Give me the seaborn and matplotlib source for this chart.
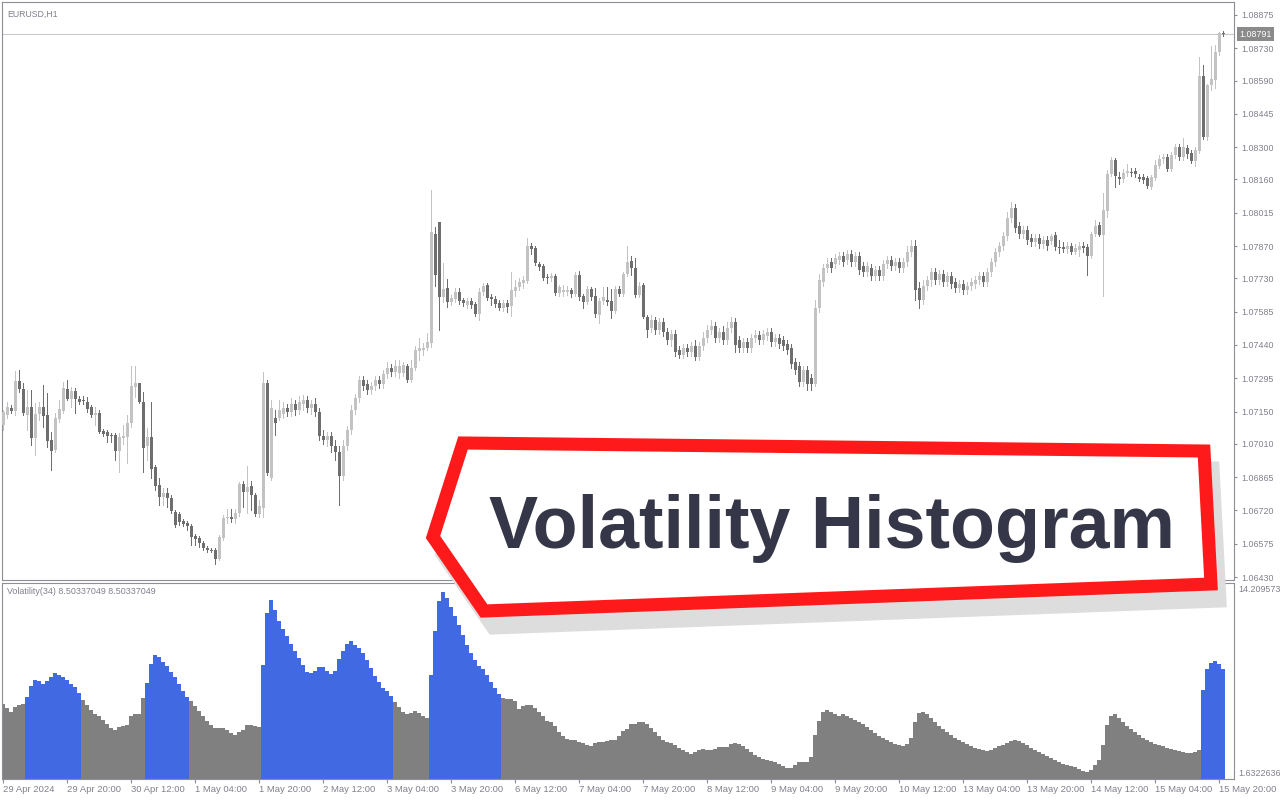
import numpy as np
import pandas as pd
import matplotlib
matplotlib.use("Agg")
import matplotlib.pyplot as plt
import matplotlib.transforms as mtransforms
from matplotlib.patches import Polygon
import seaborn as sns

sns.set_theme(style="white")
plt.rcParams['font.family'] = ['Liberation Sans', 'DejaVu Sans']

# ---------------- data ----------------
symbol = "EURUSD,H1"
indicator_label = "Volatility(34) 8.50337049 8.50337049"
banner_text = "Volatility Histogram"
last_price = 1.08791
vol_max_label = "14.209573"
vol_min_label = "1.6322636"
price_ticks = [1.08875, 1.08730, 1.08590, 1.08445, 1.08300, 1.08160, 1.08015, 1.07870, 1.07730,
               1.07585, 1.07440, 1.07295, 1.07150, 1.07010, 1.06865, 1.06720, 1.06575, 1.06430]

opens = [
    1.07092, 1.07135, 1.07165, 1.07152, 1.07283, 1.07248, 1.07135, 1.07170, 1.07035, 1.07139,
    1.07170, 1.07135, 1.07026, 1.06983, 1.07118, 1.07152, 1.07248, 1.07205, 1.07239, 1.07205,
    1.07200, 1.07192, 1.07170, 1.07135, 1.07144, 1.07065, 1.07061, 1.07048, 1.07048, 1.06978,
    1.07035, 1.07039, 1.07100, 1.07257, 1.07274, 1.07192, 1.07000, 1.07039, 1.06909, 1.06831,
    1.06778, 1.06796, 1.06774, 1.06713, 1.06704, 1.06674, 1.06665, 1.06652, 1.06609, 1.06600,
    1.06578, 1.06556, 1.06548, 1.06548, 1.06509, 1.06600, 1.06687, 1.06691, 1.06683, 1.06709,
    1.06835, 1.06800, 1.06826, 1.06787, 1.06704, 1.06730, 1.07274, 1.06861, 1.07122, 1.07122,
    1.07139, 1.07165, 1.07148, 1.07183, 1.07157, 1.07183, 1.07200, 1.07165, 1.07183, 1.07148,
    1.07044, 1.07026, 1.07044, 1.07000, 1.06974, 1.06870, 1.07000, 1.07070, 1.07157, 1.07209,
    1.07287, 1.07270, 1.07244, 1.07261, 1.07287, 1.07270, 1.07313, 1.07339, 1.07322, 1.07318,
    1.07318, 1.07348, 1.07287, 1.07339, 1.07413, 1.07418, 1.07426, 1.07448, 1.07922, 1.07975,
    1.07648, 1.07687, 1.07627, 1.07640, 1.07670, 1.07635, 1.07614, 1.07631, 1.07618, 1.07574,
    1.07670, 1.07701, 1.07648, 1.07640, 1.07622, 1.07600, 1.07622, 1.07609, 1.07674, 1.07692,
    1.07709, 1.07718, 1.07870, 1.07861, 1.07792, 1.07783, 1.07735, 1.07731, 1.07740, 1.07666,
    1.07670, 1.07670, 1.07679, 1.07661, 1.07744, 1.07653, 1.07627, 1.07683, 1.07653, 1.07570,
    1.07631, 1.07635, 1.07631, 1.07587, 1.07683, 1.07661, 1.07748, 1.07805, 1.07774, 1.07657,
    1.07701, 1.07561, 1.07513, 1.07548, 1.07505, 1.07540, 1.07496, 1.07461, 1.07487, 1.07418,
    1.07396, 1.07426, 1.07409, 1.07435, 1.07387, 1.07435, 1.07470, 1.07505, 1.07522, 1.07470,
    1.07496, 1.07461, 1.07513, 1.07540, 1.07461, 1.07426, 1.07453, 1.07426, 1.07470, 1.07483,
    1.07461, 1.07479, 1.07496, 1.07453, 1.07470, 1.07461, 1.07444, 1.07426, 1.07366, 1.07348,
    1.07279, 1.07331, 1.07296, 1.07270, 1.07600, 1.07714, 1.07774, 1.07801, 1.07792, 1.07809,
    1.07827, 1.07809, 1.07835, 1.07801, 1.07827, 1.07783, 1.07757, 1.07774, 1.07740, 1.07766,
    1.07740, 1.07792, 1.07809, 1.07783, 1.07801, 1.07774, 1.07801, 1.07844, 1.07870, 1.07687,
    1.07635, 1.07696, 1.07722, 1.07757, 1.07722, 1.07748, 1.07714, 1.07740, 1.07714, 1.07687,
    1.07705, 1.07679, 1.07696, 1.07705, 1.07722, 1.07740, 1.07714, 1.07757, 1.07801, 1.07844,
    1.07870, 1.07914, 1.07992, 1.08035, 1.07957, 1.07922, 1.07940, 1.07905, 1.07888, 1.07905,
    1.07879, 1.07896, 1.07892, 1.07918, 1.07866, 1.07866, 1.07857, 1.07870, 1.07844, 1.07853,
    1.07870, 1.07866, 1.07827, 1.07922, 1.07962, 1.07918, 1.08022, 1.08183, 1.08244, 1.08170,
    1.08162, 1.08188, 1.08192, 1.08196, 1.08170, 1.08170, 1.08166, 1.08127, 1.08166, 1.08218,
    1.08249, 1.08257, 1.08205, 1.08266, 1.08301, 1.08257, 1.08296, 1.08275, 1.08240, 1.08283,
    1.08610, 1.08344, 1.08571, 1.08592, 1.08714, 1.08797,
]
highs = [
    1.07157, 1.07192, 1.07179, 1.07326, 1.07331, 1.07274, 1.07244, 1.07244, 1.07187, 1.07192,
    1.07266, 1.07231, 1.07061, 1.07144, 1.07200, 1.07279, 1.07287, 1.07257, 1.07252, 1.07218,
    1.07218, 1.07213, 1.07179, 1.07170, 1.07157, 1.07074, 1.07070, 1.07057, 1.07057, 1.07057,
    1.07092, 1.07135, 1.07348, 1.07348, 1.07274, 1.07235, 1.07078, 1.07192, 1.06918, 1.06861,
    1.06817, 1.06817, 1.06787, 1.06722, 1.06713, 1.06683, 1.06674, 1.06661, 1.06617, 1.06609,
    1.06587, 1.06565, 1.06556, 1.06556, 1.06613, 1.06700, 1.06726, 1.06726, 1.06726, 1.06844,
    1.06848, 1.06913, 1.06848, 1.06796, 1.06765, 1.07322, 1.07287, 1.07200, 1.07157, 1.07200,
    1.07192, 1.07183, 1.07209, 1.07200, 1.07218, 1.07222, 1.07218, 1.07200, 1.07209, 1.07165,
    1.07070, 1.07061, 1.07061, 1.07026, 1.07000, 1.07026, 1.07087, 1.07179, 1.07226, 1.07305,
    1.07305, 1.07287, 1.07279, 1.07305, 1.07305, 1.07331, 1.07366, 1.07357, 1.07374, 1.07374,
    1.07366, 1.07357, 1.07374, 1.07435, 1.07470, 1.07448, 1.07492, 1.08114, 1.07953, 1.07975,
    1.07796, 1.07727, 1.07657, 1.07687, 1.07687, 1.07644, 1.07644, 1.07644, 1.07627, 1.07687,
    1.07709, 1.07709, 1.07661, 1.07653, 1.07635, 1.07635, 1.07635, 1.07757, 1.07722, 1.07731,
    1.07740, 1.07905, 1.07883, 1.07870, 1.07801, 1.07792, 1.07748, 1.07753, 1.07748, 1.07701,
    1.07701, 1.07696, 1.07687, 1.07757, 1.07761, 1.07661, 1.07696, 1.07692, 1.07687, 1.07644,
    1.07692, 1.07692, 1.07683, 1.07696, 1.07696, 1.07757, 1.07870, 1.07827, 1.07818, 1.07714,
    1.07709, 1.07570, 1.07570, 1.07561, 1.07557, 1.07557, 1.07513, 1.07505, 1.07505, 1.07435,
    1.07444, 1.07444, 1.07453, 1.07461, 1.07453, 1.07496, 1.07527, 1.07548, 1.07540, 1.07513,
    1.07522, 1.07540, 1.07561, 1.07557, 1.07479, 1.07470, 1.07470, 1.07487, 1.07505, 1.07500,
    1.07505, 1.07513, 1.07513, 1.07487, 1.07487, 1.07479, 1.07461, 1.07444, 1.07383, 1.07366,
    1.07348, 1.07348, 1.07313, 1.07635, 1.07748, 1.07792, 1.07818, 1.07818, 1.07835, 1.07844,
    1.07844, 1.07853, 1.07853, 1.07844, 1.07844, 1.07801, 1.07801, 1.07792, 1.07783, 1.07783,
    1.07809, 1.07827, 1.07827, 1.07818, 1.07818, 1.07818, 1.07870, 1.07896, 1.07896, 1.07714,
    1.07722, 1.07740, 1.07774, 1.07774, 1.07766, 1.07766, 1.07757, 1.07757, 1.07731, 1.07722,
    1.07722, 1.07714, 1.07731, 1.07740, 1.07757, 1.07757, 1.07774, 1.07818, 1.07861, 1.07888,
    1.07931, 1.08018, 1.08062, 1.08053, 1.07975, 1.07957, 1.07957, 1.07922, 1.07922, 1.07922,
    1.07914, 1.07914, 1.07922, 1.07931, 1.07896, 1.07888, 1.07888, 1.07883, 1.07879, 1.07888,
    1.07888, 1.07879, 1.07931, 1.07983, 1.07975, 1.08101, 1.08201, 1.08257, 1.08253, 1.08192,
    1.08205, 1.08227, 1.08209, 1.08209, 1.08183, 1.08183, 1.08175, 1.08179, 1.08244, 1.08266,
    1.08270, 1.08270, 1.08279, 1.08314, 1.08314, 1.08340, 1.08310, 1.08288, 1.08301, 1.08692,
    1.08658, 1.08575, 1.08740, 1.08745, 1.08801, 1.08805,
]
lows = [
    1.07070, 1.07122, 1.07144, 1.07135, 1.07235, 1.07135, 1.07070, 1.07005, 1.06961, 1.07113,
    1.07083, 1.06996, 1.06896, 1.06974, 1.07105, 1.07144, 1.07200, 1.07170, 1.07144, 1.07183,
    1.07183, 1.07148, 1.07126, 1.07092, 1.07057, 1.07044, 1.07018, 1.07018, 1.06939, 1.06887,
    1.07009, 1.06926, 1.07083, 1.07213, 1.07187, 1.06887, 1.06939, 1.06861, 1.06809, 1.06744,
    1.06744, 1.06735, 1.06709, 1.06648, 1.06657, 1.06652, 1.06635, 1.06570, 1.06570, 1.06561,
    1.06548, 1.06539, 1.06539, 1.06487, 1.06504, 1.06591, 1.06665, 1.06670, 1.06665, 1.06696,
    1.06735, 1.06709, 1.06722, 1.06696, 1.06691, 1.06691, 1.06874, 1.06852, 1.07048, 1.07113,
    1.07122, 1.07131, 1.07131, 1.07135, 1.07139, 1.07157, 1.07148, 1.07139, 1.07131, 1.07026,
    1.07009, 1.07000, 1.06974, 1.06939, 1.06744, 1.06852, 1.06983, 1.07052, 1.07139, 1.07192,
    1.07244, 1.07226, 1.07226, 1.07244, 1.07252, 1.07252, 1.07296, 1.07305, 1.07305, 1.07296,
    1.07305, 1.07279, 1.07279, 1.07331, 1.07374, 1.07396, 1.07418, 1.07431, 1.07696, 1.07505,
    1.07627, 1.07605, 1.07614, 1.07627, 1.07618, 1.07609, 1.07600, 1.07600, 1.07566, 1.07548,
    1.07657, 1.07635, 1.07614, 1.07605, 1.07592, 1.07587, 1.07583, 1.07566, 1.07653, 1.07679,
    1.07687, 1.07709, 1.07835, 1.07788, 1.07766, 1.07722, 1.07709, 1.07718, 1.07657, 1.07653,
    1.07653, 1.07657, 1.07648, 1.07653, 1.07635, 1.07600, 1.07618, 1.07635, 1.07561, 1.07535,
    1.07618, 1.07614, 1.07557, 1.07579, 1.07653, 1.07653, 1.07740, 1.07744, 1.07648, 1.07648,
    1.07557, 1.07474, 1.07496, 1.07487, 1.07487, 1.07479, 1.07444, 1.07435, 1.07392, 1.07383,
    1.07383, 1.07392, 1.07392, 1.07374, 1.07374, 1.07418, 1.07453, 1.07487, 1.07453, 1.07453,
    1.07444, 1.07444, 1.07496, 1.07409, 1.07409, 1.07409, 1.07409, 1.07409, 1.07453, 1.07444,
    1.07444, 1.07461, 1.07435, 1.07435, 1.07426, 1.07418, 1.07400, 1.07339, 1.07313, 1.07261,
    1.07261, 1.07244, 1.07244, 1.07261, 1.07583, 1.07696, 1.07757, 1.07757, 1.07774, 1.07792,
    1.07783, 1.07792, 1.07783, 1.07783, 1.07748, 1.07740, 1.07740, 1.07722, 1.07722, 1.07722,
    1.07722, 1.07774, 1.07766, 1.07766, 1.07757, 1.07757, 1.07783, 1.07827, 1.07635, 1.07600,
    1.07618, 1.07679, 1.07696, 1.07705, 1.07705, 1.07696, 1.07696, 1.07687, 1.07670, 1.07670,
    1.07661, 1.07661, 1.07679, 1.07687, 1.07705, 1.07696, 1.07696, 1.07740, 1.07783, 1.07827,
    1.07853, 1.07896, 1.07975, 1.07931, 1.07905, 1.07905, 1.07879, 1.07870, 1.07870, 1.07861,
    1.07861, 1.07853, 1.07879, 1.07853, 1.07840, 1.07844, 1.07840, 1.07835, 1.07835, 1.07827,
    1.07844, 1.07744, 1.07818, 1.07914, 1.07914, 1.07653, 1.07996, 1.08175, 1.08127, 1.08140,
    1.08149, 1.08175, 1.08175, 1.08170, 1.08153, 1.08144, 1.08122, 1.08118, 1.08157, 1.08209,
    1.08231, 1.08196, 1.08196, 1.08253, 1.08244, 1.08244, 1.08253, 1.08231, 1.08218, 1.08275,
    1.08336, 1.08331, 1.08549, 1.08557, 1.08701, 1.08784,
]
closes = [
    1.07148, 1.07170, 1.07152, 1.07283, 1.07248, 1.07144, 1.07170, 1.07035, 1.07139, 1.07170,
    1.07131, 1.07022, 1.06978, 1.07122, 1.07161, 1.07252, 1.07205, 1.07239, 1.07205, 1.07192,
    1.07196, 1.07161, 1.07135, 1.07144, 1.07061, 1.07052, 1.07044, 1.07044, 1.06978, 1.07039,
    1.07044, 1.07100, 1.07261, 1.07274, 1.07192, 1.06991, 1.07039, 1.06900, 1.06826, 1.06778,
    1.06796, 1.06774, 1.06717, 1.06657, 1.06670, 1.06661, 1.06652, 1.06604, 1.06596, 1.06578,
    1.06556, 1.06548, 1.06543, 1.06509, 1.06604, 1.06687, 1.06691, 1.06683, 1.06709, 1.06835,
    1.06800, 1.06822, 1.06787, 1.06704, 1.06739, 1.07274, 1.06883, 1.07165, 1.07100, 1.07157,
    1.07165, 1.07148, 1.07183, 1.07157, 1.07192, 1.07200, 1.07165, 1.07183, 1.07148, 1.07044,
    1.07026, 1.07044, 1.07000, 1.06974, 1.06870, 1.07000, 1.07070, 1.07157, 1.07209, 1.07287,
    1.07261, 1.07244, 1.07261, 1.07287, 1.07270, 1.07313, 1.07339, 1.07322, 1.07348, 1.07348,
    1.07353, 1.07287, 1.07339, 1.07418, 1.07426, 1.07426, 1.07453, 1.07931, 1.07744, 1.07648,
    1.07683, 1.07627, 1.07644, 1.07670, 1.07631, 1.07622, 1.07631, 1.07614, 1.07574, 1.07670,
    1.07696, 1.07644, 1.07640, 1.07618, 1.07600, 1.07622, 1.07605, 1.07679, 1.07692, 1.07714,
    1.07722, 1.07870, 1.07857, 1.07796, 1.07779, 1.07731, 1.07731, 1.07740, 1.07666, 1.07692,
    1.07679, 1.07679, 1.07661, 1.07744, 1.07648, 1.07627, 1.07683, 1.07648, 1.07574, 1.07631,
    1.07648, 1.07627, 1.07587, 1.07683, 1.07661, 1.07748, 1.07801, 1.07774, 1.07657, 1.07696,
    1.07561, 1.07505, 1.07548, 1.07505, 1.07540, 1.07496, 1.07461, 1.07487, 1.07409, 1.07396,
    1.07426, 1.07409, 1.07435, 1.07387, 1.07435, 1.07470, 1.07505, 1.07522, 1.07470, 1.07496,
    1.07461, 1.07513, 1.07540, 1.07440, 1.07426, 1.07453, 1.07426, 1.07470, 1.07483, 1.07461,
    1.07487, 1.07496, 1.07453, 1.07470, 1.07444, 1.07435, 1.07418, 1.07357, 1.07331, 1.07279,
    1.07331, 1.07270, 1.07270, 1.07600, 1.07722, 1.07774, 1.07792, 1.07774, 1.07818, 1.07827,
    1.07801, 1.07835, 1.07801, 1.07827, 1.07766, 1.07757, 1.07783, 1.07740, 1.07766, 1.07740,
    1.07792, 1.07809, 1.07783, 1.07801, 1.07774, 1.07801, 1.07844, 1.07870, 1.07679, 1.07635,
    1.07696, 1.07722, 1.07757, 1.07722, 1.07748, 1.07714, 1.07740, 1.07705, 1.07687, 1.07705,
    1.07679, 1.07696, 1.07714, 1.07722, 1.07740, 1.07714, 1.07757, 1.07801, 1.07844, 1.07870,
    1.07914, 1.07992, 1.08035, 1.07948, 1.07922, 1.07940, 1.07896, 1.07888, 1.07905, 1.07879,
    1.07896, 1.07870, 1.07914, 1.07866, 1.07861, 1.07857, 1.07870, 1.07844, 1.07861, 1.07870,
    1.07861, 1.07827, 1.07922, 1.07957, 1.07918, 1.08027, 1.08183, 1.08244, 1.08175, 1.08162,
    1.08188, 1.08196, 1.08188, 1.08183, 1.08162, 1.08157, 1.08131, 1.08170, 1.08223, 1.08249,
    1.08257, 1.08205, 1.08266, 1.08301, 1.08257, 1.08301, 1.08270, 1.08240, 1.08288, 1.08610,
    1.08344, 1.08571, 1.08597, 1.08714, 1.08797, 1.08791,
]

volatility = [
    6.39, 6.11, 5.83, 6.18, 6.32, 6.39, 6.85, 7.64, 8.04, 7.97,
    7.78, 7.97, 8.27, 8.53, 8.39, 8.27, 8.04, 7.81, 7.57, 7.15,
    6.66, 6.32, 5.97, 5.69, 5.55, 5.27, 4.96, 4.69, 4.57, 4.78,
    4.85, 4.92, 5.55, 5.69, 5.69, 6.80, 7.85, 9.18, 9.81, 9.69,
    9.32, 9.04, 8.62, 8.30, 7.78, 7.29, 6.87, 6.60, 6.25, 5.90,
    5.55, 5.20, 4.92, 4.71, 4.71, 4.71, 4.57, 4.36, 4.22, 4.43,
    4.57, 4.92, 4.92, 4.85, 4.78, 9.11, 12.74, 13.65, 12.95, 12.18,
    11.63, 11.14, 10.58, 10.09, 9.60, 9.11, 8.62, 8.55, 8.69, 8.97,
    8.97, 8.69, 8.48, 8.69, 9.53, 10.09, 10.58, 10.79, 10.51, 10.30,
    9.95, 9.46, 8.90, 8.34, 7.92, 7.50, 7.29, 6.94, 6.53, 6.18,
    5.83, 5.69, 5.76, 5.90, 5.76, 5.55, 5.41, 8.41, 11.49, 13.58,
    14.21, 13.79, 13.16, 12.53, 11.91, 11.21, 10.51, 9.95, 9.46, 9.04,
    8.83, 8.41, 7.92, 7.50, 7.08, 6.80, 6.73, 6.73, 6.60, 6.04,
    6.25, 6.32, 6.32, 6.11, 5.83, 5.55, 5.20, 5.13, 4.85, 4.43,
    4.15, 3.94, 3.87, 3.87, 3.73, 3.66, 3.52, 3.45, 3.66, 3.73,
    3.73, 3.80, 3.87, 3.87, 4.15, 4.50, 4.64, 4.99, 4.99, 5.13,
    5.13, 4.99, 4.71, 4.43, 4.15, 3.87, 3.73, 3.66, 3.52, 3.31,
    3.17, 3.03, 2.89, 3.03, 3.17, 3.24, 3.17, 3.17, 3.24, 3.38,
    3.38, 3.38, 3.59, 3.66, 3.59, 3.45, 3.24, 3.03, 2.82, 2.68,
    2.54, 2.47, 2.40, 2.33, 2.19, 2.05, 1.91, 1.91, 2.12, 2.33,
    2.33, 2.33, 2.68, 4.22, 5.20, 5.83, 5.97, 5.83, 5.69, 5.55,
    5.66, 5.52, 5.38, 5.24, 5.10, 4.97, 4.76, 4.55, 4.34, 4.13,
    3.99, 3.85, 3.72, 3.58, 3.51, 3.44, 3.58, 3.99, 5.10, 5.73,
    5.80, 5.66, 5.38, 5.10, 4.83, 4.62, 4.41, 4.20, 3.99, 3.85,
    3.72, 3.58, 3.44, 3.30, 3.23, 3.16, 3.09, 3.16, 3.30, 3.44,
    3.51, 3.65, 3.78, 3.85, 3.78, 3.65, 3.51, 3.30, 3.16, 3.02,
    2.88, 2.74, 2.60, 2.46, 2.32, 2.19, 2.12, 2.05, 1.98, 1.84,
    1.70, 1.63, 1.77, 2.12, 2.46, 3.51, 4.90, 5.52, 5.66, 5.38,
    5.10, 4.83, 4.62, 4.41, 4.20, 3.99, 3.85, 3.72, 3.58, 3.51,
    3.44, 3.30, 3.23, 3.16, 3.09, 3.02, 2.95, 2.95, 3.02, 3.16,
    7.33, 8.86, 9.28, 9.41, 9.21, 8.86,
]
# bars drawn in the "high volatility" colour (inclusive index spans)
blue_spans = [(6, 19), (36, 46), (65, 97), (107, 124), (300, 305)]

# hourly bar times (forex week, no weekend bars)
hours = pd.date_range("2024-04-29 04:00", "2024-05-15 21:00", freq="h")
times = hours[hours.dayofweek < 5]

# ---------------- style ----------------
BULL = "#c3c3c3"
BEAR = "#6e6e6e"
HIST_GRAY = "#808080"
HIST_BLUE = "#4169e1"
AXIS = "#8e8e96"
TXT = "#80808f"

W, H = 1280.0, 800.0


def box(x0, y0, x1, y1):
    return [x0 / W, 1 - y1 / H, (x1 - x0) / W, (y1 - y0) / H]


def fxy(x, y):
    return (x / W, 1 - y / H)


fig = plt.figure(figsize=(12.8, 8), dpi=100)
fig.patch.set_facecolor("white")
ax = fig.add_axes(box(2, 2, 1234, 580))
axv = fig.add_axes(box(2, 583, 1234, 779))

n = len(opens)
idx = np.arange(n)
o = np.array(opens)
hi = np.array(highs)
lo = np.array(lows)
c = np.array(closes)

y_lo, y_hi = 1.064173, 1.089315
one_px = (y_hi - y_lo) / 578.0
cols = np.where(c >= o, BULL, BEAR)

# candles
ax.vlines(idx, lo, hi, colors=cols, linewidth=0.72, antialiased=False, zorder=2)
ax.bar(idx, np.maximum(np.abs(c - o), one_px), bottom=np.minimum(o, c), width=0.72,
       color=cols, linewidth=0, antialiased=False, zorder=3)
ax.axhline(last_price, color="#c9c9c9", linewidth=0.8, zorder=1)

ax.set_xlim(-0.325, n + 1.675)
ax.set_ylim(y_lo, y_hi)
ax.set_xticks([])
ax.set_yticks(price_ticks)
ax.set_yticklabels([f"{v:.5f}" for v in price_ticks])
ax.yaxis.tick_right()
ax.tick_params(axis="y", which="both", left=False, right=True, labelleft=False, labelright=True,
               direction="out", length=2.5, width=0.8, color=AXIS, pad=2.5,
               labelsize=6.4, labelcolor=TXT)

tr = mtransforms.blended_transform_factory(ax.transAxes, ax.transData)
ax.text(1 + 5.0 / 1232, last_price, f"{last_price:.5f}", transform=tr, ha="left", va="center",
        fontsize=6.4, color="white", clip_on=False, zorder=10,
        bbox=dict(boxstyle="square,pad=0.28", fc="#8a8a8a", ec="none"))

# volatility histogram (seaborn)
state = np.array(["base"] * n, dtype=object)
for a, b in blue_spans:
    state[a:b + 1] = "high"
vol_df = pd.DataFrame({"bar": idx, "volatility": volatility, "state": state})
sns.barplot(data=vol_df, x="bar", y="volatility", hue="state",
            palette={"base": HIST_GRAY, "high": HIST_BLUE}, native_scale=True,
            width=1.0, dodge=False, saturation=1, errorbar=None, legend=False,
            linewidth=0, edgecolor="none", antialiased=False, ax=axv)
axv.set_xlim(-0.325, n + 1.675)
axv.set_ylim(1.143, 14.84)
axv.set_xlabel("")
axv.set_ylabel("")
axv.set_yticks([])

tick_idx = idx[::16]
tick_labels = []
for j, t in enumerate(times[tick_idx]):
    if j == 0:
        tick_labels.append(f"{t.day} {t.strftime('%b %Y')}")
    else:
        tick_labels.append(f"{t.day} {t.strftime('%b %H:%M')}")
axv.set_xticks(tick_idx)
axv.set_xticklabels(tick_labels, ha="left")
axv.tick_params(axis="x", bottom=True, direction="out", length=3, width=0.8, color=AXIS,
                pad=1.5, labelsize=6.8, labelcolor=TXT)

for a_ in (ax, axv):
    for s in a_.spines.values():
        s.set_visible(True)
        s.set_color(AXIS)
        s.set_linewidth(0.8)

# panel texts
fig.text(*fxy(7, 14), symbol, fontsize=6.3, color=TXT, va="center", ha="left")
fig.text(*fxy(7, 591), indicator_label, fontsize=6.4, color=TXT, va="center", ha="left", zorder=4)
fig.text(*fxy(1238, 590), vol_max_label, fontsize=6.4, color=TXT, va="center", ha="left")
fig.text(*fxy(1238, 773), vol_min_label, fontsize=6.4, color=TXT, va="center", ha="left")

# banner with drop shadow
banner = [(433, 537), (463, 443), (1204, 451), (1211, 584), (484, 611)]
shadow = [(x + 9, y + 17) for x, y in banner]
fig.add_artist(Polygon([fxy(x, y) for x, y in shadow], closed=True, transform=fig.transFigure,
                       fc="#dddddd", ec="#dddddd", lw=9.4, joinstyle="miter", zorder=5))
fig.add_artist(Polygon([fxy(x, y) for x, y in banner], closed=True, transform=fig.transFigure,
                       fc="white", ec="#fe1a1a", lw=9.4, joinstyle="miter", zorder=6))
fig.text(*fxy(832, 548), banner_text, ha="center", va="baseline", fontsize=53,
         fontweight="bold", color="#353647", zorder=7)

fig.savefig("out.png", dpi=100, facecolor="white")
